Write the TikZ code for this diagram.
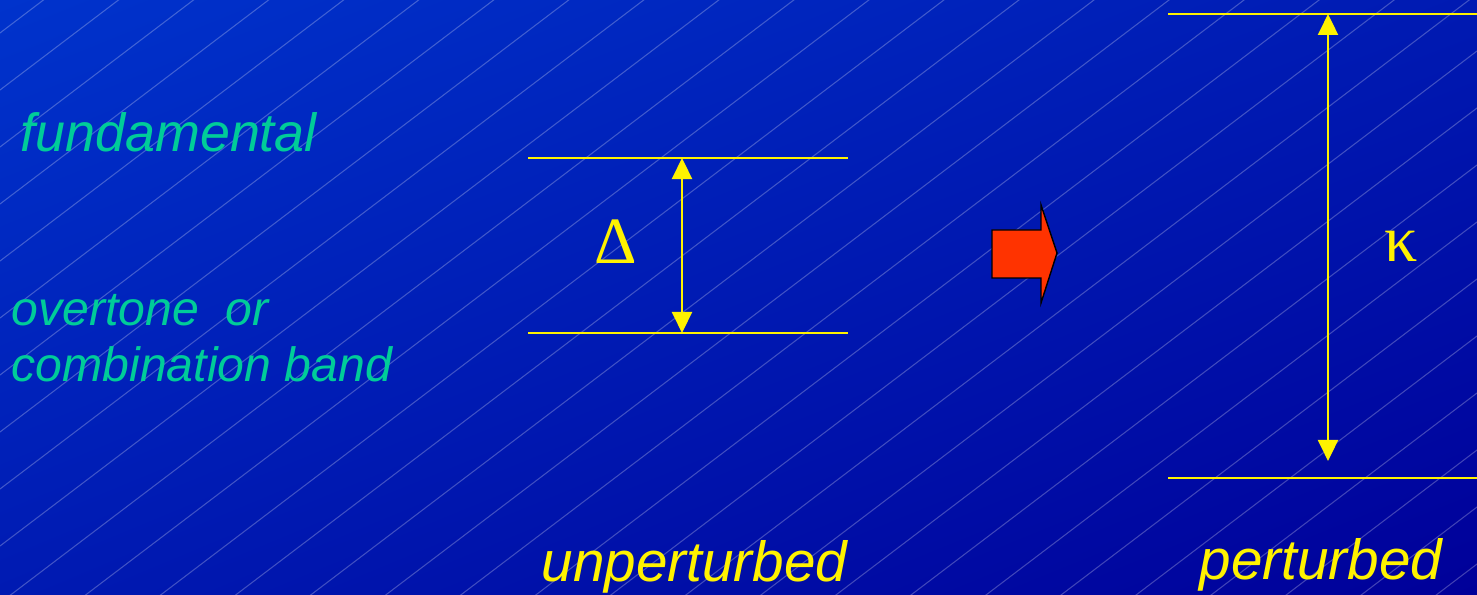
\documentclass[tikz,border=0pt]{standalone}
\usepackage{fontspec}
\setmainfont{Liberation Sans}
\newfontfamily\greekfont{Liberation Serif}
\usepackage{xcolor}
\usetikzlibrary{arrows.meta, positioning, calc, shadings}
\definecolor{bgtl}{RGB}{0,51,204}
\definecolor{bgmid}{RGB}{0,26,178}
\definecolor{bgbr}{RGB}{0,0,153}
\definecolor{bandgreen}{RGB}{0,204,153}
\definecolor{shiftred}{RGB}{255,51,0}

\begin{document}
\begin{tikzpicture}[x=0.01cm, y=-0.01cm,
    level/.style={draw=yellow, line width=0.6pt},
    gap/.style={draw=yellow, line width=0.6pt,
        {Triangle[length=2.1mm,width=2mm]}-{Triangle[length=2.1mm,width=2mm]}},
    bandtext/.style={inner sep=0pt, anchor=base west, text=bandgreen,
        font=\itshape\fontsize{13.7pt}{16.1pt}\selectfont, align=left},
    statetext/.style={inner sep=0pt, anchor=base west, text=yellow,
        font=\itshape\fontsize{16.1pt}{19pt}\selectfont},
    symb/.style={inner sep=0pt, anchor=base, text=yellow,
        font=\greekfont\fontsize{18.8pt}{22pt}\selectfont}]
    \useasboundingbox (0,0) rectangle (1477,595);
    \shade[upper left=bgtl, upper right=bgmid, lower left=bgmid, lower right=bgbr]
        (0,0) rectangle (1477,595);
    \begin{scope}
        \clip (0,0) rectangle (1477,595);
        \foreach \k in {0,...,30}
            \draw[white, opacity=0.25, line width=0.3pt]
                (0,{33+57*\k}) -- (1477,{33+57*\k-1122});
    \end{scope}

    \node[bandtext, font=\itshape\fontsize{15.3pt}{18pt}\selectfont] (fund) at (20,152) {fundamental};
    \node[bandtext] (comb) at (11,382) {overtone\ \ or\\combination band};

    % unperturbed levels
    \coordinate (u1l) at (528,158);
    \coordinate (u1r) at (848,158);
    \coordinate (u2l) at (528,333);
    \coordinate (u2r) at (848,333);
    \coordinate (u1) at (682,158);
    \coordinate (u2) at (682,333);
    \draw[level] (u1l) -- (u1r);
    \draw[level] (u2l) -- (u2r);
    \draw[gap] (u1) -- (u2);
    \node[symb] (delta) at (616,264) {Δ};
    \node[statetext] (unpert) at (541,581) {unperturbed};

    \draw[fill=shiftred, draw=black, line width=0.4pt]
        (992,230) -- (1041,230) -- (1041,205) -- (1057,253) -- (1041,303)
        -- (1041,278) -- (992,278) -- cycle;

    % perturbed levels
    \coordinate (p1l) at (1168,14);
    \coordinate (p1r) at (1477,14);
    \coordinate (p2l) at (1168,478);
    \coordinate (p2r) at (1477,478);
    \coordinate (p1) at (1328,14);
    \coordinate (p2) at (1328,461);
    \draw[level] (p1l) -- (p1r);
    \draw[level] (p2l) -- (p2r);
    \draw[gap] (p1) -- (p2);
    \node[symb] (kappa) at (1401,262) {κ};
    \node[statetext] (pert) at (1199,580) {perturbed};
\end{tikzpicture}
\end{document}
